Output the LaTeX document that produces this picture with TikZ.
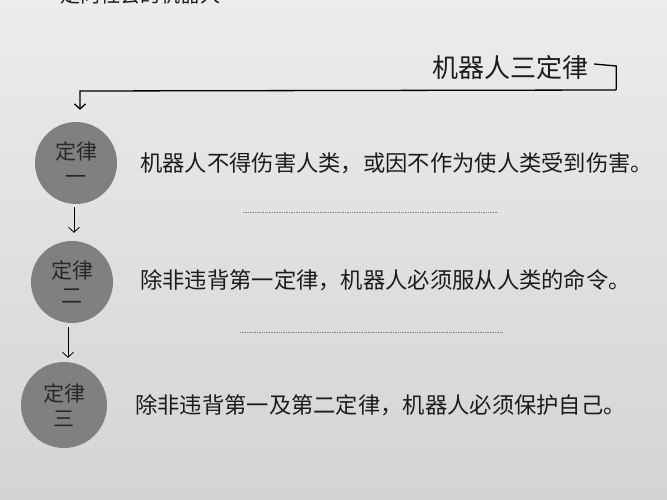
\documentclass[tikz,border=0pt]{standalone}
\usepackage{fontspec}
\newfontfamily\cjk{Noto Sans CJK SC}
\usetikzlibrary{arrows,arrows.meta,calc}

\definecolor{paperTop}{RGB}{236,236,234}
\definecolor{paperBot}{RGB}{212,212,210}
\definecolor{discGray}{RGB}{128,128,126}
\definecolor{discInk}{RGB}{40,40,40}
\definecolor{ink}{RGB}{28,28,28}

\begin{document}
\begin{tikzpicture}[x=1pt,y=-1pt,
    law/.style={circle,fill=discGray,text=discInk,minimum size=82pt,inner sep=0pt,
                align=center,font=\cjk\fontsize{21}{25}\selectfont},
    rule/.style={anchor=west,inner sep=0pt,text=ink,font=\cjk\fontsize{22.3}{26}\selectfont},
    sep/.style={gray,line width=0.6pt,dash pattern=on 1pt off 0.7pt},
    >={Straight Barb[length=5pt,width=11pt]}
   ]
    % page
    \shade[top color=paperTop,bottom color=paperBot] (0,0) rectangle (667,500);
    \useasboundingbox (0,0) rectangle (667,500);

    \node[text=ink,font=\cjk\fontsize{20}{24}\selectfont] (header) at (140,-5) {走向社会的机器人};
    \node[text=ink,inner sep=0pt,font=\cjk\fontsize{26}{30}\selectfont] (title) at (510,68) {机器人三定律};

    % the three laws
    \node[law] (law1) at (76,163) {定律\\一};
    \node[law] (law2) at (72,282) {定律\\二};
    \node[law,minimum size=86pt] (law3) at (64,405) {定律\\三};

    \node[rule] (rule1) at (140,163) {机器人不得伤害人类，或因不作为使人类受到伤害。};
    \node[rule] (rule2) at (140,280) {除非违背第一定律，机器人必须服从人类的命令。};
    \node[rule] (rule3) at (135,405) {除非违背第一及第二定律，机器人必须保护自己。};

    \draw[sep] (243,212) -- (498,212);
    \draw[sep] (240,332) -- (503,332);

    % bracket from the title
    \draw[line width=1.3pt] ([xshift=6pt,yshift=4pt]title.east) -- ++(22,2) -- ++(0,24) coordinate (hookR);
    \draw[line width=1.3pt,->] (hookR) -- (80,91) -- ([yshift=12pt]law1.north -| 80,0);
    \draw[->,line width=0.8pt] ([yshift=-3pt]law1.south -| 74,0) -- ([yshift=8pt]law2.north -| 74,0);
    \draw[->,line width=0.8pt] ([yshift=-4pt]law2.south -| 68,0) -- ([yshift=4pt]law3.north -| 68,0);
\end{tikzpicture}
\end{document}
